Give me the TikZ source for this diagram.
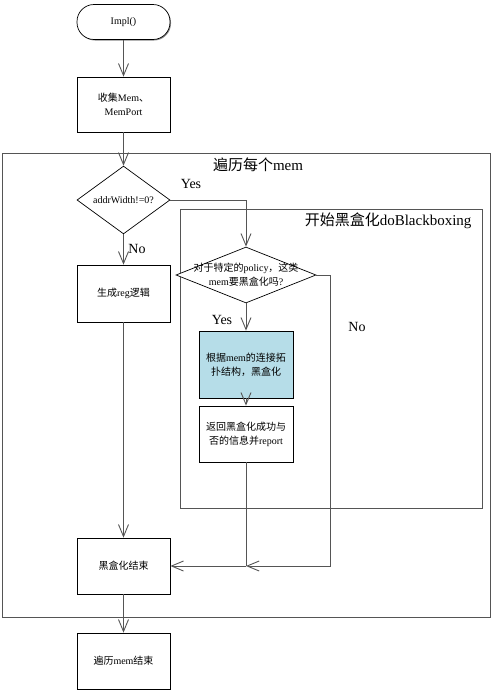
\documentclass[tikz,border=0pt]{standalone}
\usepackage{fontspec}
\setmainfont{Liberation Serif}
\newfontfamily\cjk{Noto Sans CJK SC}
\newcommand{\zh}[1]{{\cjk #1}}
\usetikzlibrary{shapes.geometric,arrows.meta,shadows}
\definecolor{boxblue}{HTML}{B6DDE8}
\definecolor{linegray}{HTML}{555555}
\begin{document}
\begin{tikzpicture}[x=1pt,y=-1pt,
    box/.style={draw=black, line width=0.7pt, fill=white, minimum width=93pt, minimum height=56pt,
                align=center, font=\fontsize{10}{14}\selectfont,
                drop shadow={shadow xshift=1pt,shadow yshift=-1pt,fill=black!45,opacity=1}},
    term/.style={box, rounded corners=17pt, minimum height=35pt, drop shadow={opacity=0}},
    decision/.style={diamond, draw=black, line width=0.7pt, fill=white, inner sep=0pt},
    frame/.style={draw=linegray, line width=1pt},
    flow/.style={draw=linegray, line width=1pt},
    arr/.style={flow, -{Straight Barb[length=12pt,width=10pt,line width=0.9pt]}},
    yesno/.style={font=\fontsize{14}{14}\selectfont},
    title/.style={font=\fontsize{15}{15}\selectfont}]
\useasboundingbox (0,0) rectangle (492,691);
% frames
\node[frame, minimum width=488pt, minimum height=464pt, inner sep=0pt] (loop) at (246,385) {};
\node[title] (looptitle) at (258,165) {\zh{遍历每个}mem};
\node[frame, minimum width=302pt, minimum height=299pt, inner sep=0pt] (blackbox) at (331,358.5) {};
\node[title, anchor=east] (bbtitle) at (475,221) {\zh{开始黑盒化}doBlackboxing};
% nodes
\node[term] (impl) at (123.5,22) {Impl()};
\node[box, minimum height=55pt] (collect) at (123.5,104.5) {\zh{收集}Mem\zh{、}\\MemPort};
\node[decision, minimum width=93pt, minimum height=56pt] (addr) at (123.5,200)
    {\fontsize{10}{10}\selectfont addrWidth!=0?};
\node[box, minimum height=57pt] (gen) at (123.5,293.5) {\zh{生成}reg\zh{逻辑}};
\node[decision, minimum width=140pt, minimum height=56pt] (policy) at (246,275) {};
\node[align=center, font=\fontsize{10}{14}\selectfont] (policytext) at (246,275)
    {\zh{对于特定的}policy\zh{，这类}\\mem\zh{要黑盒化吗}?};
\node[box, fill=boxblue, minimum width=94pt, minimum height=67pt] (doit) at (246,364.5)
    {\zh{根据}mem\zh{的连接拓}\\\zh{扑结构，黑盒化}};
\node[box, minimum width=94pt] (report) at (246,434) {\zh{返回黑盒化成功与}\\\zh{否的信息并}report};
\node[box] (bbend) at (123.5,566) {\zh{黑盒化结束}};
\node[box] (memend) at (123.5,661) {\zh{遍历}mem\zh{结束}};
\coordinate (join) at (report.south |- bbend.east);
\coordinate (nocorner) at (330,275);
% connectors
\draw[arr] (impl) -- (collect);
\draw[arr] (collect) -- (addr);
\draw[arr] (addr) -- (gen);
\draw[arr] (addr.east) -| (policy.north);
\draw[arr] (policy) -- (doit);
\draw[arr] (doit) -- (report);
\draw[flow] (report) -- (join);
\draw[arr] (join) -- (bbend);
\draw[arr] (policy.east) -- (nocorner) |- (join);
\draw[arr] (gen) -- (bbend);
\draw[arr] (bbend) -- (memend);
% labels
\node[yesno] (addryes) at (191,184) {Yes};
\node[yesno] (addrno) at (137,249) {No};
\node[yesno] (policyyes) at (222,320) {Yes};
\node[yesno] (policyno) at (357,327) {No};
\end{tikzpicture}
\end{document}
